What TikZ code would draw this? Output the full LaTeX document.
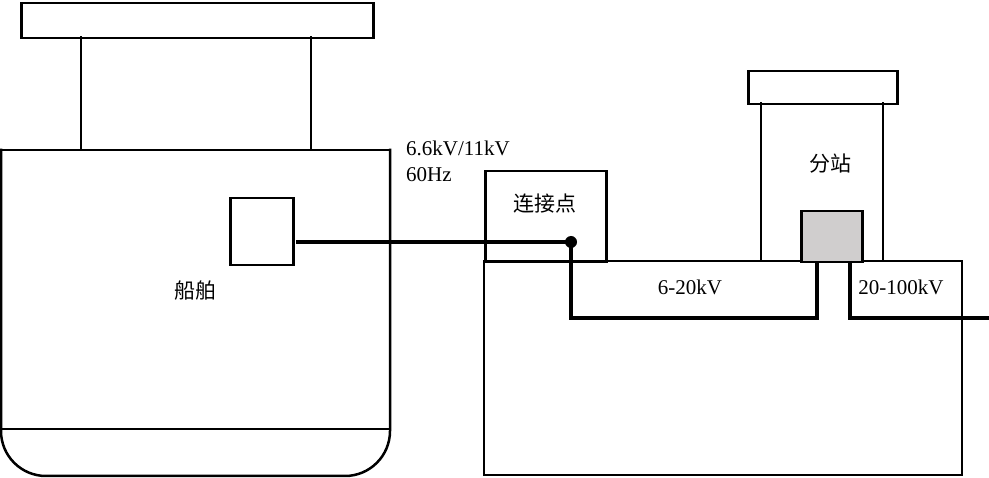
\documentclass[tikz,border=0pt]{standalone}
\usepackage{fontspec}
\setmainfont{Liberation Serif}
\newfontfamily\cjk{Noto Sans CJK SC}
\definecolor{boxgray}{RGB}{208,206,206}
\begin{document}
\begin{tikzpicture}[x=1pt,y=-1pt,
  shp/.style={draw,line width=2.5pt,line cap=rect},
  wire/.style={line width=3.2pt},
  box/.style={shp,inner sep=0pt,anchor=north west},
  lbl/.style={font=\fontsize{21}{25}\selectfont,inner sep=0pt},
  cjklbl/.style={font=\cjk\fontsize{21}{25}\selectfont,inner sep=0pt}]
\useasboundingbox (0,0) rectangle (989,478);
% ship
\node[box,minimum width=352pt,minimum height=35pt] (deck) at (20,2) {};
\draw[shp] (81,37) -- (81,150) (311,37) -- (311,150);
\draw[shp,rounded corners=45pt] (1,150) -- (1,476) -- (390,476) -- (390,150);
\draw[shp] (1,150) -- (390,150);
\draw[shp] (1,429) -- (390,429);
\node[box,minimum width=63pt,minimum height=67pt] (spm) at (229,197) {};
\node[cjklbl] (shiplbl) at (195,291) {船舶};
% land
\draw[shp] (484,261) rectangle (962,475);
\node[box,minimum width=121pt,minimum height=91pt] (conn) at (484,170) {};
\node[cjklbl] (connlbl) at (545,204) {连接点};
\node[box,minimum width=149pt,minimum height=33pt] (subtop) at (747,70) {};
\draw[shp] (761,103) -- (761,261) (883,103) -- (883,261);
\node[cjklbl] (sublbl) at (830,164) {分站};
\node[box,fill=boxgray,minimum width=61pt,minimum height=51pt] (trafo) at (800,210) {};
% labels
\node[lbl,anchor=west] (v1) at (406,148) {6.6kV/11kV};
\node[lbl,anchor=west] (v2) at (406,175) {60Hz};
\node[lbl] (lv) at (690,287) {6-20kV};
\node[lbl] (hv) at (901,287) {20-100kV};
% wiring
\coordinate (shipout) at (296,242);
\coordinate (dot) at (571,242);
\coordinate (gridend) at (989,318);
\draw[wire] (shipout) -- (dot);
\fill (dot) circle (6pt);
\draw[wire] (dot) -- (571,318) -- (817,318) -- (817,261);
\draw[wire] (850,261) -- (850,318) -- (gridend);
\end{tikzpicture}
\end{document}
